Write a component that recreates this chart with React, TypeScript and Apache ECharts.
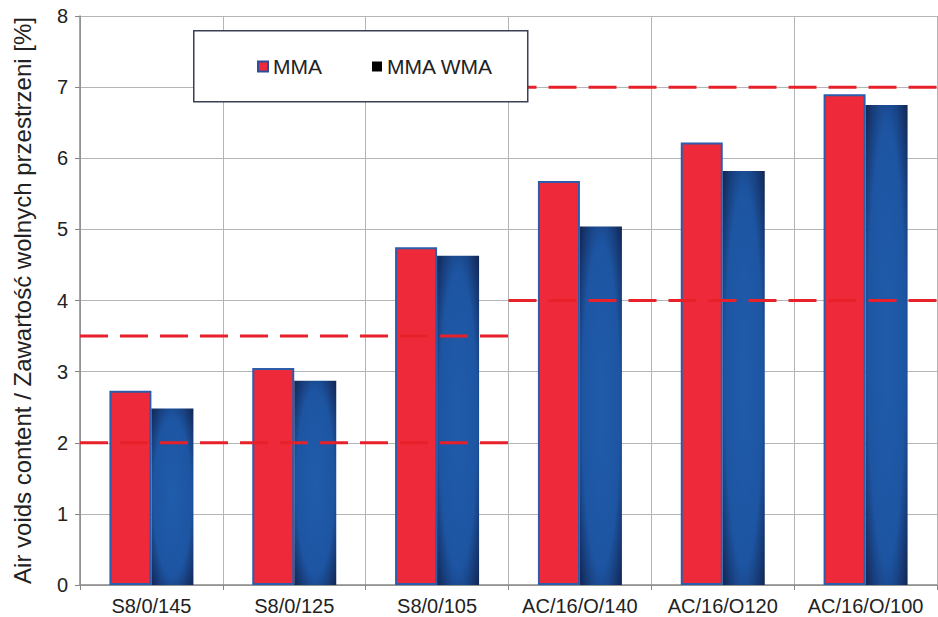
import React, { useEffect, useRef } from "react";
import * as echarts from "echarts";

const categories = ["S8/0/145", "S8/0/125", "S8/0/105", "AC/16/O/140", "AC/16/O120", "AC/16/O/100"];
const mmaValues = [2.73, 3.05, 4.75, 5.68, 6.22, 6.9];
const mmaWmaValues = [2.48, 2.87, 4.63, 5.04, 5.82, 6.75];
const yTicks = [0, 1, 2, 3, 4, 5, 6, 7, 8];
// threshold lines: [startCategoryBoundary, endCategoryBoundary, value]
const limitLines: [number, number, number][] = [
  [0, 3, 2],
  [0, 3, 3.5],
  [3, 6, 4],
  [3, 6, 7],
];

export default function App() {
  const ref = useRef<HTMLDivElement>(null);
  useEffect(() => {
    if (!ref.current) return;
    const chart = echarts.init(ref.current, undefined, { renderer: "svg" });
    const font = "Liberation Sans, Arial, sans-serif";
    const blueFill = new echarts.graphic.RadialGradient(0.5, 0.5, 0.75, [
      { offset: 0, color: "#1f5cab" },
      { offset: 0.6, color: "#1d55a2" },
      { offset: 1, color: "#101d45" },
    ]);
    const lineSeries = limitLines.map((l) => ({
      type: "line",
      xAxisIndex: 1,
      data: [
        [l[0], l[2]],
        [l[1], l[2]],
      ],
      symbol: "none",
      silent: true,
      z: 5,
      lineStyle: { color: "#e8202a", width: 3, type: [28, 12] },
    }));
    chart.setOption({
      animation: false,
      backgroundColor: "#ffffff",
      grid: { left: 80, right: 1, top: 16, bottom: 32 },
      legend: {
        left: 252,
        top: 51,
        z: 200,
        itemGap: 50,
        itemWidth: 10,
        itemHeight: 10,
        icon: "rect",
        textStyle: { fontFamily: font, fontSize: 21, color: "#222" },
        data: [
          { name: "MMA", itemStyle: { color: "#ee2a3a", borderColor: "#2d4f9a", borderWidth: 2 } },
          { name: "MMA WMA", itemStyle: { color: "#000000", borderWidth: 0 } },
        ],
      },
      graphic: [
        {
          type: "rect",
          left: 193,
          top: 30,
          z: 100,
          shape: { width: 334, height: 71 },
          style: { fill: "#ffffff", stroke: "#3a3f55", lineWidth: 1.5 },
        },
      ],
      xAxis: [
        {
          type: "category",
          data: categories,
          boundaryGap: true,
          axisLine: { show: true, lineStyle: { color: "#888", width: 1.5 } },
          axisTick: { show: true, interval: 0, length: 5, inside: false, lineStyle: { color: "#888" } },
          splitLine: { show: true, interval: 0, lineStyle: { color: "#b5b5b5", width: 1 } },
          axisLabel: { interval: 0, fontFamily: font, fontSize: 20, color: "#222", margin: 11 },
        },
        {
          type: "value",
          min: 0,
          max: 6,
          show: false,
        },
      ],
      yAxis: {
        type: "value",
        min: 0,
        max: 8,
        interval: 1,
        name: "Air voids content / Zawartość wolnych przestrzeni [%]",
        nameLocation: "middle",
        nameGap: 46,
        nameTextStyle: { fontFamily: font, fontSize: 24, color: "#222" },
        axisLine: { show: true, lineStyle: { color: "#888", width: 1.5 } },
        axisTick: { show: true, length: 5, lineStyle: { color: "#888" } },
        splitLine: { show: true, lineStyle: { color: "#b5b5b5", width: 1 } },
        axisLabel: {
          fontFamily: font,
          fontSize: 20,
          color: "#222",
          margin: 12,
          formatter: (v: number) => (yTicks.includes(v) ? String(v) : ""),
        },
      },
      series: [
        {
          name: "MMA",
          type: "bar",
          data: mmaValues,
          barWidth: 42,
          barGap: "0%",
          itemStyle: { color: "#ee2a3a", borderColor: "#2d5caa", borderWidth: 2 },
          z: 3,
        },
        {
          name: "MMA WMA",
          type: "bar",
          data: mmaWmaValues,
          barWidth: 42,
          itemStyle: { color: blueFill },
          z: 3,
        },
        ...lineSeries,
      ],
    });
    return () => chart.dispose();
  }, []);
  return (
    <div
      ref={ref}
      style={{ position: "fixed", left: 0, top: 0, width: 938, height: 617 }}
    />
  );
}
